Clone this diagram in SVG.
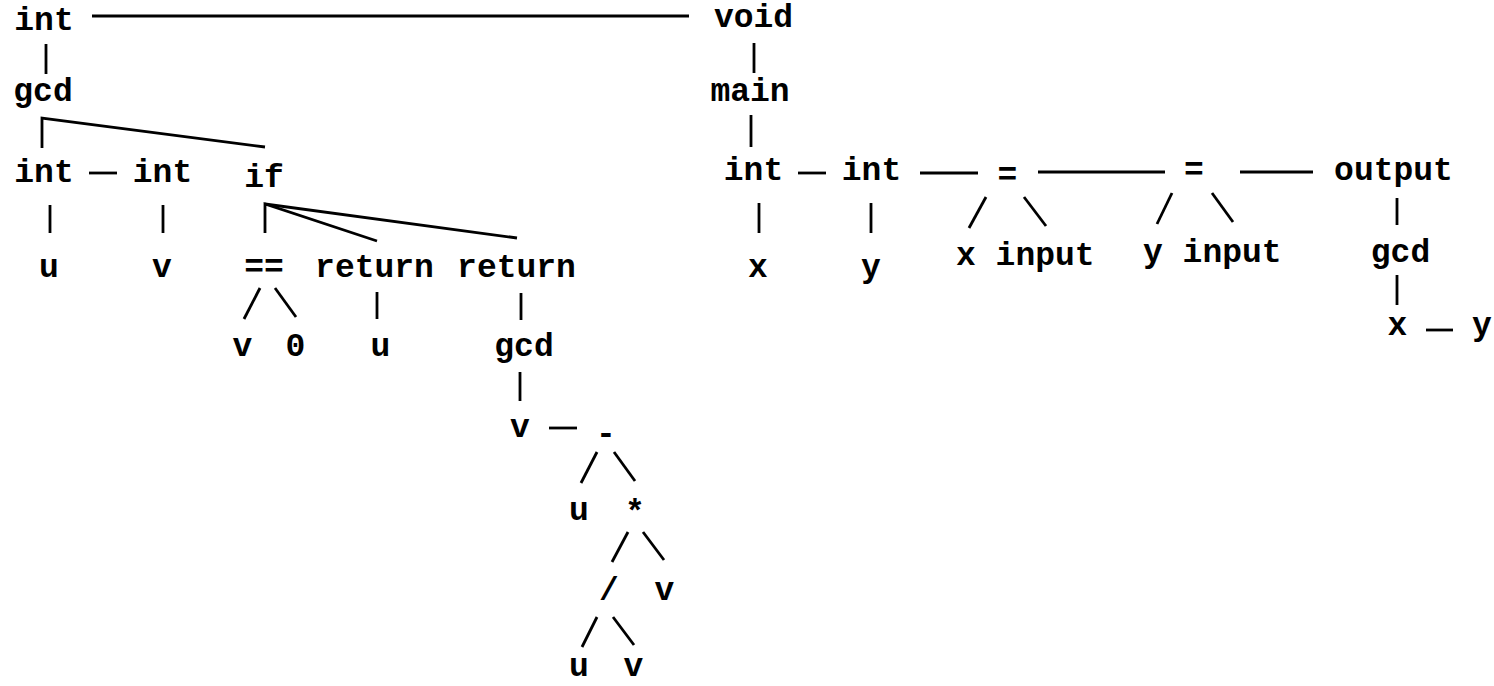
<svg xmlns="http://www.w3.org/2000/svg" width="1494" height="686" viewBox="0 0 1494 686">
<style>
text{font-family:"Liberation Mono","Courier New",monospace;font-weight:bold;font-size:33px;fill:#000}
.m{text-anchor:middle}
#edges line,#edges polyline{stroke:#000;stroke-width:2.8;fill:none}
</style>
<rect width="1494" height="686" fill="#fff"/>
<g id="edges">
<line x1="92" y1="16" x2="689" y2="16"/>
<line x1="46" y1="44" x2="46" y2="74"/>
<polyline points="42,148 42,118 265,147"/>
<line x1="89" y1="173" x2="117" y2="173"/>
<line x1="50" y1="205" x2="50" y2="233"/>
<line x1="163" y1="205" x2="163" y2="233"/>
<polyline points="265,233 265,204 377,241"/>
<line x1="265" y1="204" x2="517" y2="238"/>
<line x1="260" y1="288" x2="244" y2="319"/>
<line x1="275" y1="288" x2="296" y2="317"/>
<line x1="377" y1="292" x2="377" y2="319"/>
<line x1="521" y1="293" x2="521" y2="320"/>
<line x1="520" y1="372" x2="520" y2="401"/>
<line x1="549" y1="428" x2="577" y2="428"/>
<line x1="597" y1="452" x2="581" y2="483"/>
<line x1="614" y1="452" x2="635" y2="481"/>
<line x1="628" y1="532" x2="612" y2="562"/>
<line x1="643" y1="532" x2="664" y2="560"/>
<line x1="597" y1="617" x2="582" y2="647"/>
<line x1="613" y1="617" x2="634" y2="645"/>
<line x1="754" y1="43" x2="754" y2="73"/>
<line x1="751" y1="115" x2="751" y2="147"/>
<line x1="798" y1="173" x2="826" y2="173"/>
<line x1="920" y1="173" x2="978" y2="173"/>
<line x1="1038" y1="172" x2="1165" y2="172"/>
<line x1="1240" y1="172" x2="1313" y2="172"/>
<line x1="759" y1="203" x2="759" y2="233"/>
<line x1="871" y1="203" x2="871" y2="233"/>
<line x1="986" y1="197" x2="969" y2="228"/>
<line x1="1024" y1="197" x2="1046" y2="226"/>
<line x1="1172" y1="193" x2="1157" y2="224"/>
<line x1="1212" y1="193" x2="1233" y2="222"/>
<line x1="1397" y1="198" x2="1397" y2="225"/>
<line x1="1397" y1="275" x2="1397" y2="305"/>
<line x1="1426" y1="330" x2="1453" y2="330"/>
</g>
<g id="n-int-top"><text class="m" x="44" y="30">int</text></g>
<g id="n-gcd"><text class="m" x="43" y="101">gcd</text></g>
<g id="n-int-u"><text class="m" x="44" y="182">int</text></g>
<g id="n-int-v"><text class="m" x="162.5" y="182">int</text></g>
<g id="n-if"><text class="m" x="264" y="187">if</text></g>
<g id="n-u1"><text class="m" x="49" y="277">u</text></g>
<g id="n-v1"><text class="m" x="162" y="277">v</text></g>
<g id="n-eqeq"><text class="m" x="264" y="277">==</text></g>
<g id="n-return1"><text class="m" x="374.5" y="277">return</text></g>
<g id="n-return2"><text class="m" x="516.5" y="277">return</text></g>
<g id="n-v2"><text class="m" x="242.5" y="356">v</text></g>
<g id="n-zero"><text class="m" x="295.5" y="356">0</text></g>
<g id="n-u2"><text class="m" x="380.5" y="356">u</text></g>
<g id="n-gcd2"><text class="m" x="524" y="356">gcd</text></g>
<g id="n-v3"><text class="m" x="520" y="437">v</text></g>
<g id="n-minus"><text class="m" x="606" y="444">-</text></g>
<g id="n-u3"><text class="m" x="579" y="520">u</text></g>
<g id="n-star"><text class="m" x="635" y="522">*</text></g>
<g id="n-div"><text class="m" x="609" y="600">/</text></g>
<g id="n-v4"><text class="m" x="664.5" y="600">v</text></g>
<g id="n-u4"><text class="m" x="579" y="676">u</text></g>
<g id="n-v5"><text class="m" x="633.5" y="676">v</text></g>
<g id="n-void"><text class="m" x="753.5" y="27">void</text></g>
<g id="n-main"><text class="m" x="750" y="101">main</text></g>
<g id="n-int-x"><text class="m" x="753.5" y="180">int</text></g>
<g id="n-int-y"><text class="m" x="871.5" y="180">int</text></g>
<g id="n-assign1"><text class="m" x="1007.5" y="185">=</text></g>
<g id="n-x1"><text class="m" x="758" y="277">x</text></g>
<g id="n-y1"><text class="m" x="871" y="277">y</text></g>
<g id="n-x2"><text x="956" y="265">x</text></g>
<g id="n-input1"><text x="995.6" y="265">input</text></g>
<g id="n-assign2"><text class="m" x="1194" y="180">=</text></g>
<g id="n-y2"><text x="1143" y="262">y</text></g>
<g id="n-input2"><text x="1182.6" y="262">input</text></g>
<g id="n-output"><text class="m" x="1393.5" y="180">output</text></g>
<g id="n-gcd3"><text class="m" x="1400.5" y="262">gcd</text></g>
<g id="n-x3"><text class="m" x="1397.5" y="335">x</text></g>
<g id="n-y3"><text class="m" x="1482" y="335">y</text></g>
</svg>
